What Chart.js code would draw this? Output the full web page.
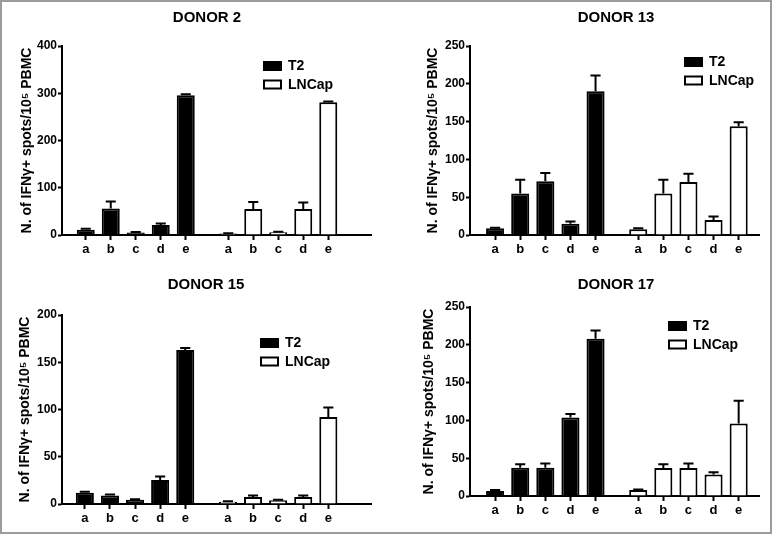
<!DOCTYPE html>
<html>
<head>
<meta charset="utf-8">
<script src="https://cdn.jsdelivr.net/npm/chart.js@4.4.1/dist/chart.umd.min.js"></script>
<style>
    html, body { margin: 0; padding: 0; background: #fff; overflow: hidden; }
    #frame { position: absolute; left: 0; top: 0; width: 772px; height: 534px; box-sizing: border-box; border: 2px solid #9c9c9c; }
    canvas { position: absolute; }
</style>
</head>
<body>
<div id="frame"></div>
<canvas id="donor2" width="414" height="268" style="left:0;top:0"></canvas>
<canvas id="donor13" width="460" height="268" style="left:386px;top:0"></canvas>
<canvas id="donor15" width="412" height="268" style="left:0;top:268px"></canvas>
<canvas id="donor17" width="460" height="268" style="left:386px;top:268px"></canvas>
<script>
// peptide groups, same for both target cells
var groups = ['a', 'b', 'c', 'd', 'e'];
var t2Pos = [1, 2, 3, 4, 5];
var lncapPos = [6.7, 7.7, 8.7, 9.7, 10.7];
var seriesNames = ['T2', 'LNCap'];
var yLabel = 'N. of IFNγ+ spots/10⁵ PBMC';

// DONOR 2
var donor2T2 = [11, 56, 5.5, 21, 296];
var donor2T2Err = [2, 15, 1, 3.5, 2];
var donor2LNCap = [3, 55, 6, 55, 281];
var donor2LNCapErr = [0.5, 15, 1, 14, 1.5];

// DONOR 13
var donor13T2 = [9, 55, 71, 15, 190];
var donor13T2Err = [0.5, 18, 11, 3, 21];
var donor13LNCap = [7.5, 55, 70, 20, 144];
var donor13LNCapErr = [1.5, 18, 11, 4.5, 5];

// DONOR 15
var donor15T2 = [12, 9, 4.5, 25.5, 163];
var donor15T2Err = [1, 1, 0.5, 3.5, 2];
var donor15LNCap = [2.5, 7.5, 4, 7.5, 92];
var donor15LNCapErr = [0.5, 1.5, 0.5, 1.5, 10];

// DONOR 17
var donor17T2 = [6.5, 37.5, 37.5, 104, 208];
var donor17T2Err = [1.5, 4.5, 5.5, 4.5, 11];
var donor17LNCap = [8, 37, 37, 28.5, 96];
var donor17LNCapErr = [0.5, 5, 6, 3, 30];

Chart.defaults.font.family = "'Liberation Sans', Arial, sans-serif";
Chart.defaults.color = '#000';

// upper error whiskers (mean + SD)
var errorBars = {
    id: 'errorBars',
    afterDatasetsDraw: function(chart) {
        var ctx = chart.ctx;
        var yScale = chart.scales.y;
        chart.data.datasets.forEach(function(ds, i) {
            var meta = chart.getDatasetMeta(i);
            ctx.save();
            ctx.strokeStyle = '#000';
            ctx.lineWidth = 2;
            meta.data.forEach(function(bar, j) {
                var top = yScale.getPixelForValue(ds.data[j].y + ds.errors[j]);
                var half = bar.width * 0.28;
                ctx.beginPath();
                ctx.moveTo(bar.x, bar.y);
                ctx.lineTo(bar.x, top);
                ctx.moveTo(bar.x - half, top);
                ctx.lineTo(bar.x + half, top);
                ctx.stroke();
            });
            ctx.restore();
        });
    }
};

// small box legend inside the plot
var boxLegend = {
    id: 'boxLegend',
    afterDraw: function(chart, args, opts) {
        var ctx = chart.ctx;
        ctx.save();
        ctx.font = 'bold 14px ' + Chart.defaults.font.family;
        ctx.textBaseline = 'middle';
        chart.data.datasets.forEach(function(ds, i) {
            var x = opts.x, y = opts.y + i * 18.5;
            ctx.fillStyle = ds.backgroundColor;
            ctx.fillRect(x, y, 19, 10);
            ctx.strokeStyle = '#000';
            ctx.lineWidth = 2;
            ctx.strokeRect(x + 1, y + 1, 17, 8);
            ctx.fillStyle = '#000';
            ctx.fillText(ds.label, x + 25, y + 5.5);
        });
        ctx.restore();
    }
};

function points(pos, vals) {
    return vals.map(function(v, i) { return { x: pos[i], y: v }; });
}

function makeChart(p) {
    var ctx = document.getElementById(p.id).getContext('2d');
    var tickPos = t2Pos.concat(lncapPos);
    var tickText = groups.concat(groups);
    return new Chart(ctx, {
        type: 'bar',
        data: {
            datasets: [
                {
                    label: seriesNames[0],
                    data: points(t2Pos, p.t2),
                    errors: p.t2Err,
                    backgroundColor: '#000',
                    borderColor: '#000',
                    borderWidth: 2,
                    grouped: false,
                    categoryPercentage: 1,
                    barPercentage: 0.72
                },
                {
                    label: seriesNames[1],
                    data: points(lncapPos, p.ln),
                    errors: p.lnErr,
                    backgroundColor: '#fff',
                    borderColor: '#000',
                    borderWidth: 2,
                    grouped: false,
                    categoryPercentage: 1,
                    barPercentage: 0.72
                }
            ]
        },
        options: {
            responsive: false,
            animation: false,
            layout: { padding: 0 },
            plugins: {
                legend: { display: false },
                tooltip: { enabled: false },
                title: {
                    display: true,
                    text: p.title,
                    color: '#000',
                    font: { size: 15, weight: 'bold' },
                    padding: p.titlePad
                },
                boxLegend: p.legend
            },
            scales: {
                x: {
                    type: 'linear',
                    offset: false,
                    min: p.xMin,
                    max: p.xMax,
                    afterBuildTicks: function(scale) {
                        scale.ticks = tickPos.map(function(v) { return { value: v }; });
                    },
                    afterFit: function(scale) { scale.height = p.xAxisH; },
                    grid: {
                        offset: false,
                        drawOnChartArea: false,
                        tickLength: 5,
                        tickWidth: 2,
                        tickColor: '#000'
                    },
                    border: { display: true, color: '#000', width: 2 },
                    ticks: {
                        autoSkip: false,
                        maxRotation: 0,
                        padding: 2,
                        font: { size: 13, weight: 'bold' },
                        callback: function(value, index) { return tickText[index]; }
                    }
                },
                y: {
                    min: 0,
                    max: p.yMax,
                    afterFit: function(scale) { scale.width = p.axisW; },
                    grid: {
                        drawOnChartArea: false,
                        tickLength: 4,
                        tickWidth: 2,
                        tickColor: '#000'
                    },
                    border: { display: true, color: '#000', width: 2 },
                    ticks: {
                        stepSize: p.yStep,
                        padding: 1,
                        font: { size: 12, weight: 'bold' }
                    },
                    title: {
                        display: true,
                        text: yLabel,
                        color: '#000',
                        font: { size: 14, weight: 'bold' },
                        padding: { top: p.yTitlePad, bottom: 0 }
                    }
                },
                // empty box on the right so the title can sit off the plot centre
                pad: {
                    position: 'right',
                    afterFit: function(scale) { scale.width = p.padRight; },
                    grid: { display: false },
                    border: { display: false },
                    ticks: { display: false }
                }
            }
        },
        plugins: [errorBars, boxLegend]
    });
}

var panels = [
    { id: 'donor2', title: 'DONOR 2', t2: donor2T2, t2Err: donor2T2Err, ln: donor2LNCap, lnErr: donor2LNCapErr,
      yMax: 400, yStep: 100, xMin: 0.05, xMax: 12.41, axisW: 62, xAxisH: 33, padRight: 43,
      titlePad: { top: 9, bottom: 19 }, yTitlePad: 18.6, legend: { x: 263, y: 61 } },
    { id: 'donor13', title: 'DONOR 13', t2: donor13T2, t2Err: donor13T2Err, ln: donor13LNCap, lnErr: donor13LNCapErr,
      yMax: 250, yStep: 50, xMin: 0, xMax: 11.51, axisW: 84, xAxisH: 33, padRight: 87,
      titlePad: { top: 9, bottom: 19 }, yTitlePad: 38.6, legend: { x: 298, y: 57 } },
    { id: 'donor15', title: 'DONOR 15', t2: donor15T2, t2Err: donor15T2Err, ln: donor15LNCap, lnErr: donor15LNCapErr,
      yMax: 200, yStep: 50, xMin: 0.09, xMax: 12.4, axisW: 62, xAxisH: 32, padRight: 41,
      titlePad: { top: 8, bottom: 21 }, yTitlePad: 16.6, legend: { x: 260, y: 70 } },
    { id: 'donor17', title: 'DONOR 17', t2: donor17T2, t2Err: donor17T2Err, ln: donor17LNCap, lnErr: donor17LNCapErr,
      yMax: 250, yStep: 50, xMin: 0, xMax: 11.51, axisW: 84, xAxisH: 40, padRight: 87,
      titlePad: { top: 8, bottom: 13 }, yTitlePad: 34.6, legend: { x: 282, y: 53 } }
];

panels.forEach(function(p) { makeChart(p); });
</script>
</body>
</html>
